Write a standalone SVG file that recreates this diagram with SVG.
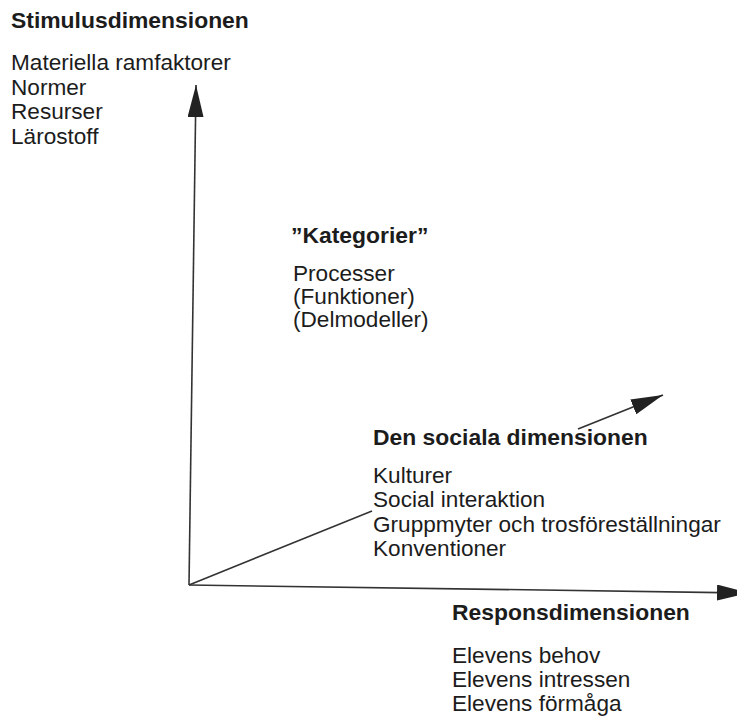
<svg xmlns="http://www.w3.org/2000/svg" width="737" height="716" viewBox="0 0 737 716">
<style>
text{font-family:"Liberation Sans",Arial,sans-serif;fill:#1c1c1c;font-size:22.6px}
.h{font-weight:bold;font-size:22.9px}
.ax{stroke:#333;stroke-width:1.6;fill:none}
</style>
<defs>
<marker id="arr" markerUnits="userSpaceOnUse" markerWidth="34" markerHeight="16" refX="32" refY="8" orient="auto">
<path d="M0,0 L32,8 L0,16 Z" fill="#222"/>
</marker>
</defs>
<rect width="737" height="716" fill="#fff"/>
<g id="connectors">
<line class="ax" x1="189" y1="585" x2="196" y2="85" marker-end="url(#arr)"/>
<line class="ax" x1="189" y1="585" x2="749" y2="593" marker-end="url(#arr)"/>
<line class="ax" x1="189" y1="585" x2="372" y2="511"/>
<line class="ax" x1="578" y1="429" x2="663" y2="395" marker-end="url(#arr)"/>
</g>
<g id="stimulus">
<text class="h" x="11" y="28">Stimulusdimensionen</text>
<text x="11" y="70">Materiella ramfaktorer</text>
<text x="11" y="95">Normer</text>
<text x="11" y="119">Resurser</text>
<text x="11" y="144">Lärostoff</text>
</g>
<g id="kategorier">
<text class="h" x="291" y="243">”Kategorier”</text>
<text x="293" y="281">Processer</text>
<text x="293" y="304">(Funktioner)</text>
<text x="293" y="327">(Delmodeller)</text>
</g>
<g id="social">
<text class="h" x="373" y="445">Den sociala dimensionen</text>
<text x="373" y="483">Kulturer</text>
<text x="373" y="507">Social interaktion</text>
<text x="373" y="532">Gruppmyter och trosföreställningar</text>
<text x="373" y="556">Konventioner</text>
</g>
<g id="respons">
<text class="h" x="452" y="620">Responsdimensionen</text>
<text x="452" y="663">Elevens behov</text>
<text x="452" y="687">Elevens intressen</text>
<text x="452" y="711">Elevens förmåga</text>
</g>
</svg>
